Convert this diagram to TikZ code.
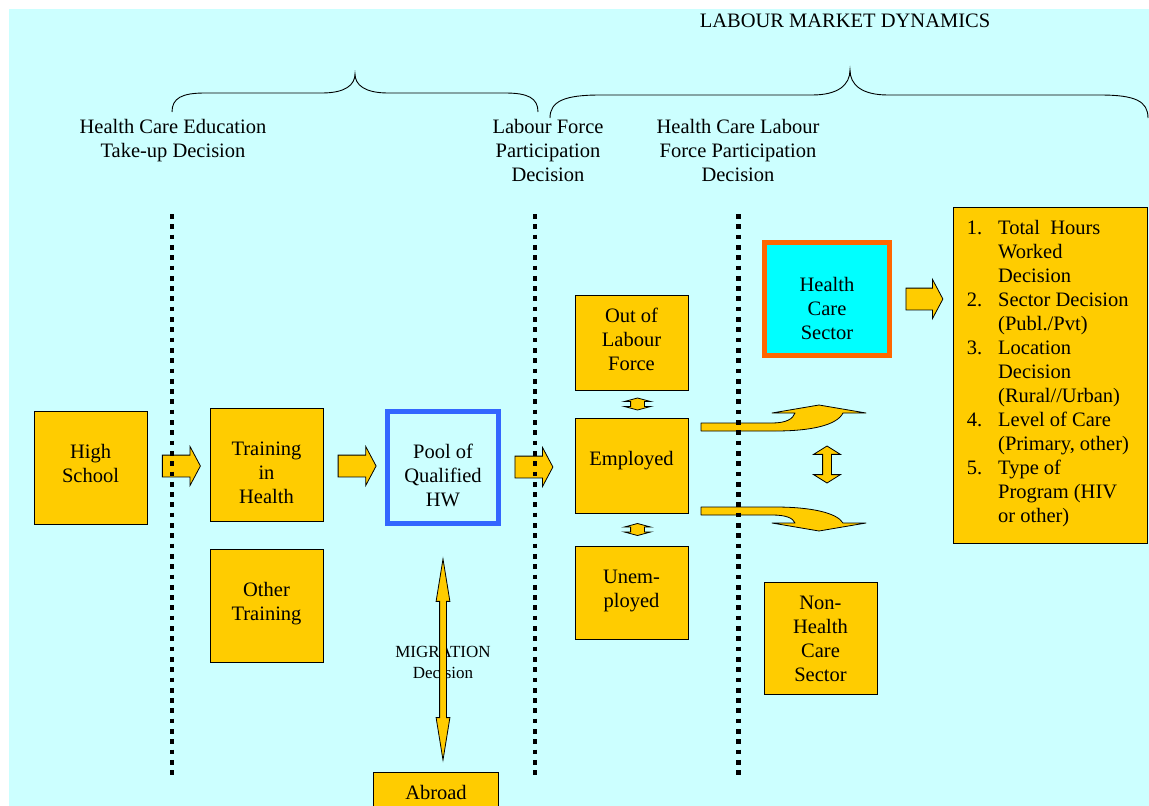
\documentclass[tikz,border=0pt]{standalone}
\usepackage{fontspec}
\setmainfont{Liberation Serif}
\usetikzlibrary{shapes.arrows,calc}
\definecolor{bgc}{HTML}{CCFFFF}
\definecolor{yel}{HTML}{FFCC00}
\definecolor{blu}{HTML}{3366FF}
\definecolor{org}{HTML}{FF6600}
\definecolor{cya}{HTML}{00FFFF}
\tikzset{
  txt/.style={font=\fontsize{20.5}{24}\selectfont, align=center, inner sep=0pt},
  ybox/.style={draw=black, line width=0.8pt, fill=yel, minimum width=113pt, minimum height=113pt, inner sep=0pt},
  rarrow/.style={single arrow, draw=black, line width=0.8pt, fill=yel, inner xsep=0pt, inner ysep=10.5pt,
    single arrow head extend=8.5pt, minimum width=38pt, minimum height=38pt, single arrow tip angle=124},
  darrow/.style={double arrow, draw=black, line width=0.8pt, fill=yel, inner xsep=0pt, rotate=90},
  curv/.style={draw=black, line width=0.8pt, fill=yel, line join=round},
  dots/.style={line width=4.7pt, dash pattern=on 4.7pt off 5.6pt},
  brace/.style={line width=0.9pt}
}
\begin{document}
\begin{tikzpicture}[x=1pt,y=-1pt]
\useasboundingbox (0,0) rectangle (1149,806);
\fill[bgc] (9,9) rectangle (1149,806);

% title and braces
\node[txt] (title) at (845,21) {LABOUR MARKET DYNAMICS};
\coordinate (lb1) at (172,112);
\coordinate (lb2) at (538,112);
\coordinate (lbt) at (355,74);
\draw[brace] (lb1) .. controls (172,98) and (182,93) .. (205,93) -- (322,93)
  .. controls (345,93) and (355,85) .. (lbt)
  .. controls (355,85) and (365,93) .. (388,93) -- (505,93)
  .. controls (528,93) and (538,98) .. (lb2);
\coordinate (rb1) at (550,118);
\coordinate (rb2) at (1148,118);
\coordinate (rbt) at (850,70);
\draw[brace] (rb1) .. controls (550,101) and (565,95) .. (600,95) -- (812,95)
  .. controls (838,95) and (850,85) .. (rbt)
  .. controls (850,85) and (862,95) .. (888,95) -- (1100,95)
  .. controls (1135,95) and (1148,101) .. (rb2);

\node[txt] (l1) at (173,141) {Health Care Education\\Take-up Decision};
\node[txt] (l2) at (548,150) {Labour Force\\Participation\\Decision};
\node[txt] (l3) at (738,150) {Health Care Labour\\Force Participation\\Decision};

% boxes
\node[ybox] (hs) at (90.5,467.5) {};
\node[txt] (hst) at ($(hs)+(0,-4)$) {High\\School};
\node[ybox] (tih) at (266.5,464.5) {};
\node[txt] (tiht) at ($(tih)+(0,8)$) {Training\\in\\Health};
\node[ybox] (ot) at (266.5,605.5) {};
\node[txt] (ott) at ($(ot)+(0,-2)$) {Other\\Training};
\node[draw=blu, line width=5pt, minimum width=111pt, minimum height=112pt, inner sep=0pt] (pool) at (443,467.5) {};
\node[txt] (poolt) at ($(pool)+(0,8)$) {Pool of\\Qualified\\HW};
\node[ybox, minimum height=95pt] (olf) at (631.5,342.5) {};
\node[txt] (olft) at ($(olf)+(0,-3)$) {Out of\\Labour\\Force};
\node[ybox, minimum height=95pt] (emp) at (631.5,465.5) {};
\node[txt] (empt) at ($(emp)+(0,-5)$) {Employed};
\node[ybox, minimum height=93pt] (unemp) at (631.5,592.5) {};
\node[txt] (unempt) at ($(unemp)+(0,-1.5)$) {Unem-\\ployed};
\node[draw=org, fill=cya, line width=5pt, minimum width=125pt, minimum height=113pt, inner sep=0pt] (hcs) at (827,299) {};
\node[txt] (hcst) at ($(hcs)+(0,9)$) {Health\\Care\\Sector};
\node[ybox, minimum height=112pt] (nhcs) at (820.5,638) {};
\node[txt] (nhcst) at ($(nhcs)+(0,0.5)$) {Non-\\Health\\Care\\Sector};
\node[ybox, minimum width=125pt, minimum height=40pt] (abroad) at (436,792) {};
\node[txt] (abroadt) at (abroad) {Abroad};
\node[ybox, minimum width=194pt, minimum height=336pt] (lbox) at (1050,375) {};
\node[txt, anchor=north west, align=left] (list) at ($(lbox.north west)+(14,11)$) {%
\begin{tabular}{@{}l@{\hspace{16pt}}l@{}}
1. & Total~ Hours\\
   & Worked\\
   & Decision\\
2. & Sector Decision\\
   & (Publ./Pvt)\\
3. & Location\\
   & Decision\\
   & (Rural//Urban)\\
4. & Level of Care\\
   & (Primary, other)\\
5. & Type of\\
   & Program (HIV\\
   & or other)
\end{tabular}};

% block arrows
\node[rarrow] (a1) at ($(hs.east)!0.5!(tih.west)$) {};
\node[rarrow] (a2) at ($(tih.east)!0.5!(pool.west)$) {};
\node[rarrow] (a3) at (531,467) {};
\node[rarrow, minimum height=37pt] (a4) at (921.5,299) {};

\node[darrow, inner ysep=6.5pt, double arrow head extend=6.5pt, minimum width=26pt, minimum height=12pt, double arrow tip angle=150] (s1) at ($(olf.south)!0.5!(emp.north)+(6,0)$) {};
\node[darrow, inner ysep=6.5pt, double arrow head extend=6.5pt, minimum width=26pt, minimum height=12pt, double arrow tip angle=150] (s2) at ($(emp.south)!0.5!(unemp.north)+(6,0)$) {};
\node[darrow, inner ysep=4pt, double arrow head extend=9pt, minimum width=26pt, minimum height=37pt, double arrow tip angle=116] (v) at (827,464.5) {};

% curved arrows
\coordinate (ua) at (701,423);
\coordinate (la) at (701,507);
\draw[curv] (ua) -- (772,423) .. controls (786,423) and (793,419) .. (795,413) -- (772,413) -- (819,405)
  -- (866,413) -- (843,413) .. controls (837,425) and (812,431) .. (775,431) -- (701,431) -- cycle;
\draw[curv] (la) -- (775,507) .. controls (812,507) and (837,513) .. (843,523) -- (866,523) -- (819,531)
  -- (772,523) -- (795,523) .. controls (793,518) and (786,515) .. (772,515) -- (701,515) -- cycle;

% migration
\node[font=\fontsize{17}{21}\selectfont, align=center, inner sep=0pt] (mig) at (443,662) {MIGRATION\\Decision};
\node[darrow, inner ysep=3pt, double arrow head extend=3.5pt, minimum width=13pt, minimum height=201pt, double arrow tip angle=18.5] (ma) at (443,659.5) {};

% dotted dividers
\coordinate (d1t) at (172,214); \coordinate (d1b) at (172,777);
\coordinate (d2t) at (535,214); \coordinate (d2b) at (535,777);
\coordinate (d3t) at (738.5,214); \coordinate (d3b) at (738.5,777);
\draw[dots] (d1t) -- (d1b);
\draw[dots] (d2t) -- (d2b);
\draw[dots] (d3t) -- (d3b);
\end{tikzpicture}
\end{document}
